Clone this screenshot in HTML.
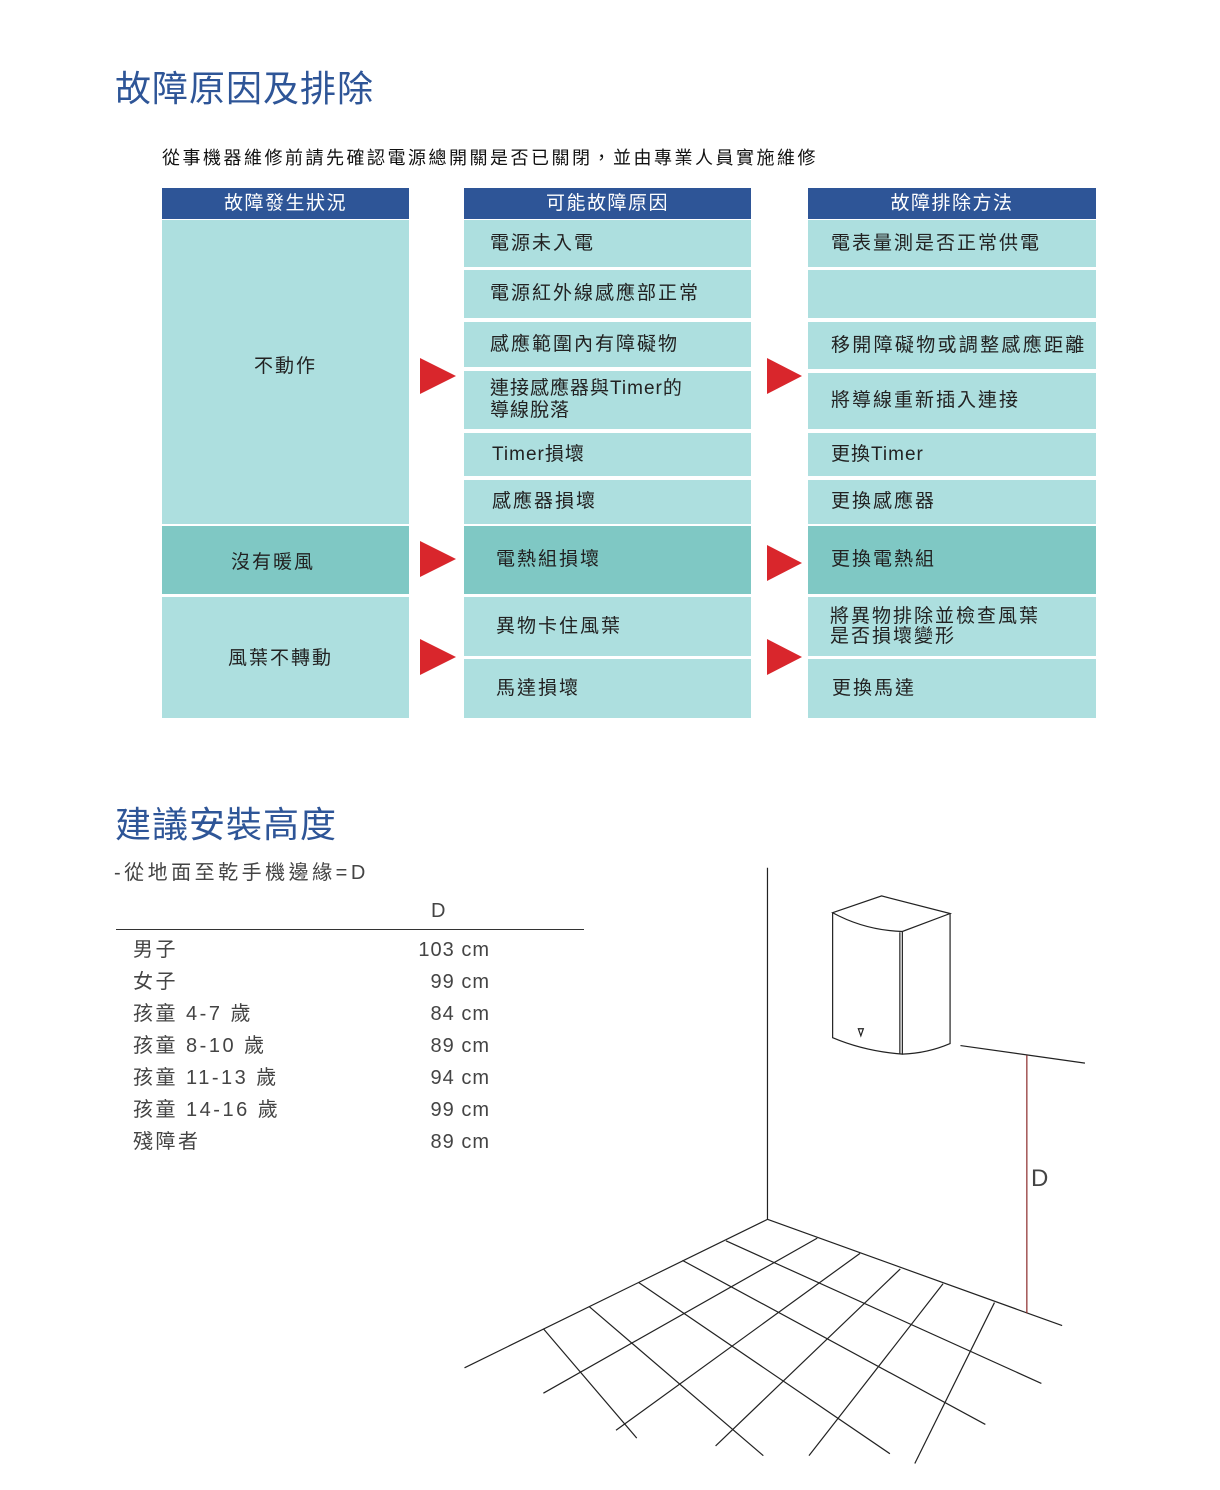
<!DOCTYPE html>
<html><head><meta charset="utf-8"><style>
*{margin:0;padding:0;box-sizing:border-box}
body{width:1220px;height:1490px;background:#fff;position:relative;overflow:hidden;font-family:"Liberation Sans","Noto Sans CJK TC",sans-serif;color:#222}
.a{position:absolute}
.h{background:#2e5597;color:#fff;font-size:19px;text-align:center;line-height:31px;letter-spacing:1.5px}
.c{background:#addfdf;font-size:19px;display:flex;align-items:center;color:#222;line-height:22px;letter-spacing:2px}
.d{background:#7fc8c4}
.t{font-size:36px;color:#2e5597;letter-spacing:1px}
.r{font-size:20px;color:#444;letter-spacing:1.5px}
</style></head><body>
<div class="a t" style="left:115px;top:60px">故障原因及排除</div>
<div class="a" style="left:162px;top:144px;font-size:18px;letter-spacing:2.5px;color:#111;white-space:nowrap">從事機器維修前請先確認電源總開關是否已關閉，並由專業人員實施維修</div>

<div class="a h" style="left:162px;top:188px;width:247px">故障發生狀況</div>
<div class="a h" style="left:464px;top:188px;width:287px">可能故障原因</div>
<div class="a h" style="left:808px;top:188px;width:288px">故障排除方法</div>

<div class="a c" style="left:162px;top:220px;width:247px;height:304px;justify-content:center;padding-bottom:10px">不動作</div>
<div class="a c d" style="left:162px;top:526px;width:247px;height:68px;justify-content:center;padding-top:6px;padding-right:25px">沒有暖風</div>
<div class="a c" style="left:162px;top:597px;width:247px;height:121px;justify-content:center;padding-right:10px;padding-top:2px">風葉不轉動</div>

<div class="a c" style="left:464px;top:220px;width:287px;height:47px;padding-left:26px">電源未入電</div>
<div class="a c" style="left:464px;top:270px;width:287px;height:48px;padding-left:26px">電源紅外線感應部正常</div>
<div class="a c" style="left:464px;top:322px;width:287px;height:45px;padding-left:26px">感應範圍內有障礙物</div>
<div class="a c" style="left:464px;top:371px;width:287px;height:58px;padding-left:26px;letter-spacing:1px">連接感應器與Timer的<br>導線脫落</div>
<div class="a c" style="left:464px;top:433px;width:287px;height:43px;padding-left:28px;letter-spacing:1px">Timer損壞</div>
<div class="a c" style="left:464px;top:480px;width:287px;height:44px;padding-left:28px">感應器損壞</div>
<div class="a c d" style="left:464px;top:526px;width:287px;height:68px;padding-left:32px">電熱組損壞</div>
<div class="a c" style="left:464px;top:597px;width:287px;height:59px;padding-left:32px">異物卡住風葉</div>
<div class="a c" style="left:464px;top:659px;width:287px;height:59px;padding-left:32px">馬達損壞</div>

<div class="a c" style="left:808px;top:220px;width:288px;height:47px;padding-left:23px">電表量測是否正常供電</div>
<div class="a c" style="left:808px;top:270px;width:288px;height:48px"></div>
<div class="a c" style="left:808px;top:322px;width:288px;height:47px;padding-left:23px;letter-spacing:2.3px">移開障礙物或調整感應距離</div>
<div class="a c" style="left:808px;top:373px;width:288px;height:56px;padding-left:23px">將導線重新插入連接</div>
<div class="a c" style="left:808px;top:433px;width:288px;height:43px;padding-left:23px;letter-spacing:1px">更換Timer</div>
<div class="a c" style="left:808px;top:480px;width:288px;height:44px;padding-left:23px">更換感應器</div>
<div class="a c d" style="left:808px;top:526px;width:288px;height:68px;padding-left:23px">更換電熱組</div>
<div class="a c" style="left:808px;top:597px;width:288px;height:59px;padding-left:22px;line-height:20px">將異物排除並檢查風葉<br>是否損壞變形</div>
<div class="a c" style="left:808px;top:659px;width:288px;height:59px;padding-left:24px">更換馬達</div>

<svg class="a" style="left:0;top:0" width="1220" height="1490">
<g fill="#d9262c">
<polygon points="420,358 456,376 420,394"/>
<polygon points="420,541 456,559 420,577"/>
<polygon points="420,639 456,657 420,675"/>
<polygon points="767,358 802,376 767,394"/>
<polygon points="767,545 802,563 767,581"/>
<polygon points="767,639 802,657 767,675"/>
</g>
<line x1="116" y1="929.5" x2="584" y2="929.5" stroke="#333" stroke-width="1"/>
<g transform="translate(450,860) scale(0.415,0.3906)" fill="none" stroke="#222" stroke-width="1.2">
<line x1="765" y1="20" x2="765" y2="920" vector-effect="non-scaling-stroke"/>
<line x1="765" y1="920" x2="35" y2="1300" vector-effect="non-scaling-stroke"/>
<line x1="765" y1="920" x2="1475" y2="1192" vector-effect="non-scaling-stroke"/>
<line x1="665" y1="975" x2="1425" y2="1340" vector-effect="non-scaling-stroke"/>
<line x1="560" y1="1025" x2="1290" y2="1445" vector-effect="non-scaling-stroke"/>
<line x1="455" y1="1082" x2="1060" y2="1520" vector-effect="non-scaling-stroke"/>
<line x1="335" y1="1143" x2="755" y2="1525" vector-effect="non-scaling-stroke"/>
<line x1="225" y1="1200" x2="450" y2="1480" vector-effect="non-scaling-stroke"/>
<line x1="885" y1="968" x2="225" y2="1365" vector-effect="non-scaling-stroke"/>
<line x1="988" y1="1007" x2="400" y2="1460" vector-effect="non-scaling-stroke"/>
<line x1="1085" y1="1047" x2="640" y2="1500" vector-effect="non-scaling-stroke"/>
<line x1="1188" y1="1085" x2="865" y2="1525" vector-effect="non-scaling-stroke"/>
<line x1="1312" y1="1133" x2="1120" y2="1545" vector-effect="non-scaling-stroke"/>
<line x1="1230" y1="475" x2="1530" y2="520" vector-effect="non-scaling-stroke"/>
<path d="M922,135 L1040,92 L1205,137 L1090,183 Q1000,180 922,135 Z" vector-effect="non-scaling-stroke"/>
<path d="M922,135 L922,455 Q1000,490 1090,497 L1090,183" vector-effect="non-scaling-stroke"/>
<path d="M1205,137 L1205,470 Q1150,495 1090,497" vector-effect="non-scaling-stroke"/>
<line x1="1084" y1="185" x2="1084" y2="496" vector-effect="non-scaling-stroke"/>
<path d="M984,432 L996,432 L990,450 Z" vector-effect="non-scaling-stroke"/>
<line x1="1390" y1="500" x2="1390" y2="1160" stroke="#8b2a2a" vector-effect="non-scaling-stroke"/>
</g>
</svg>

<div class="a t" style="left:115px;top:796px">建議安裝高度</div>
<div class="a r" style="left:114px;top:856px;letter-spacing:3.5px">-從地面至乾手機邊緣=D</div>
<div class="a r" style="left:431px;top:900px">D</div>
<div class="a r" style="left:133px;top:934px;line-height:32px;letter-spacing:2.5px">男子<br>女子<br>孩童 4-7 歲<br>孩童 8-10 歲<br>孩童 11-13 歲<br>孩童 14-16 歲<br>殘障者</div>
<div class="a r" style="left:370px;width:120px;top:934px;line-height:32px;text-align:right;letter-spacing:1px">103 cm<br>99 cm<br>84 cm<br>89 cm<br>94 cm<br>99 cm<br>89 cm</div>
<div class="a" style="left:1031px;top:1165px;font-size:24px;color:#444">D</div>
</body></html>
